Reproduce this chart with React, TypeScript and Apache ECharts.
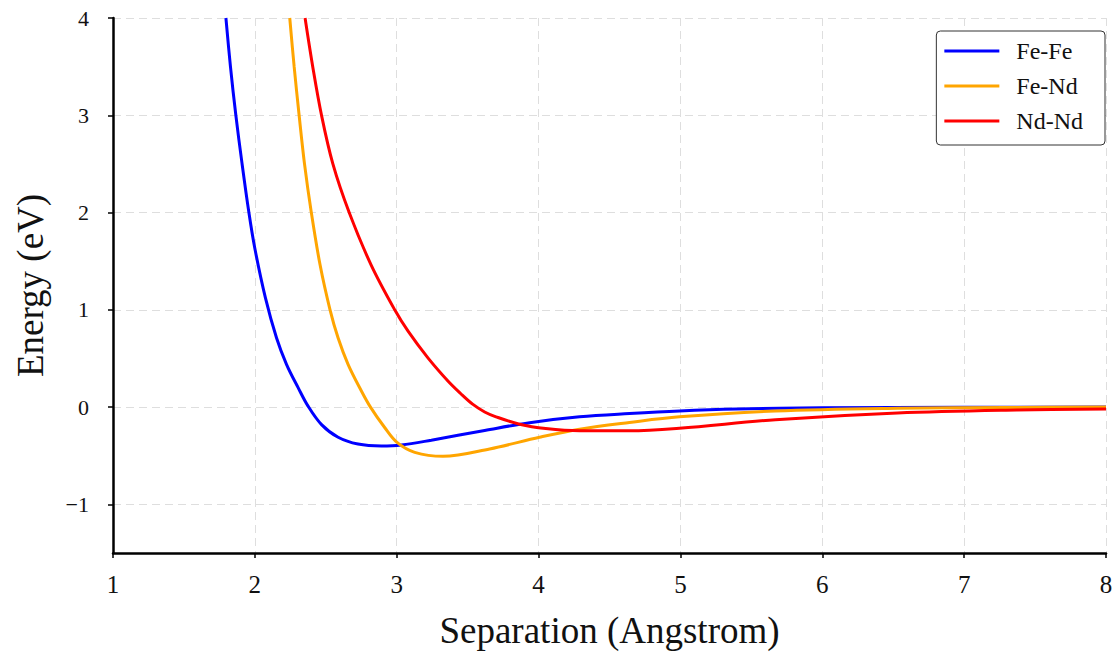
import React, { useEffect, useRef } from "react";
import * as echarts from "echarts";

// Separation (Angstrom) / Energy (eV) pairs
const feFeX = [1.796, 1.828, 1.866, 1.91, 1.958, 2.0, 2.075, 2.153, 2.223, 2.305, 2.375, 2.47, 2.587, 2.727, 2.892, 3.033, 3.244, 3.62, 3.937, 4.289, 4.641, 4.993, 5.4, 6.0, 7.0, 8.0];
const feFeY = [4.0, 3.5, 3.0, 2.5, 2.0, 1.63, 1.12, 0.71, 0.44, 0.2, 0.01, -0.18, -0.31, -0.38, -0.4, -0.39, -0.34, -0.24, -0.16, -0.1, -0.066, -0.039, -0.02, -0.008, -0.002, 0.0];

const feNdX = [2.246, 2.277, 2.312, 2.35, 2.398, 2.46, 2.53, 2.587, 2.657, 2.751, 2.815, 2.915, 3.002, 3.127, 3.326, 3.655, 4.007, 4.289, 4.641, 4.993, 5.67, 6.53, 7.3, 8.0];
const feNdY = [4.0, 3.5, 3.0, 2.5, 2.0, 1.46, 1.0, 0.71, 0.44, 0.166, 0.0, -0.21, -0.363, -0.465, -0.506, -0.43, -0.31, -0.227, -0.158, -0.1, -0.04, -0.012, -0.004, 0.0];

const ndNdX = [2.354, 2.408, 2.47, 2.55, 2.665, 2.82, 2.986, 3.08, 3.22, 3.361, 3.45, 3.535, 3.62, 3.7, 3.866, 4.05, 4.289, 4.641, 4.993, 5.67, 6.53, 7.37, 8.0];
const ndNdY = [4.0, 3.5, 3.0, 2.5, 2.0, 1.46, 1.0, 0.78, 0.506, 0.268, 0.14, 0.03, -0.05, -0.1, -0.176, -0.22, -0.243, -0.243, -0.217, -0.13, -0.061, -0.03, -0.02];

const seriesNames = ["Fe-Fe", "Fe-Nd", "Nd-Nd"];
const seriesColors = ["#0000ff", "#ffa500", "#ff0000"];
const yTicks = [-1, 0, 1, 2, 3, 4];

const FONT = "'Liberation Serif', 'DejaVu Serif', serif";

function pairs(xs: number[], ys: number[]) {
  return xs.map((x, i) => [x, ys[i]]);
}

export default function App() {
  const ref = useRef<HTMLDivElement>(null);
  useEffect(() => {
    if (!ref.current) return;
    const chart = echarts.init(ref.current, undefined, { renderer: "svg" });
    const data = [pairs(feFeX, feFeY), pairs(feNdX, feNdY), pairs(ndNdX, ndNdY)];
    const gridLine = { show: true, lineStyle: { color: "#dedede", width: 1, type: [8, 5] as any } };
    chart.setOption({
      animation: false,
      backgroundColor: "#ffffff",
      grid: { left: 113, right: 11, top: 18, bottom: 99, containLabel: false },
      legend: {
        orient: "vertical",
        right: 12,
        top: 31,
        padding: [8, 22, 12, 8],
        icon: "rect",
        itemWidth: 55,
        itemHeight: 3,
        itemGap: 11,
        backgroundColor: "#ffffff",
        borderColor: "#333333",
        borderWidth: 1,
        borderRadius: 4,
        data: seriesNames,
        textStyle: { fontFamily: FONT, fontSize: 24, color: "#111", padding: [0, 0, 0, 12], lineHeight: 24 },
      },
      xAxis: {
        type: "value",
        min: 1,
        max: 8,
        interval: 1,
        name: "Separation (Angstrom)",
        nameLocation: "middle",
        nameGap: 59,
        nameTextStyle: { fontFamily: FONT, fontSize: 37, color: "#111" },
        axisLine: { show: true, onZero: false, lineStyle: { color: "#000", width: 2.5 } },
        axisTick: { show: true, length: 5, lineStyle: { color: "#000", width: 1.5 } },
        axisLabel: {
          margin: 18,
          formatter: (v: number) => "{t|" + v + "}",
          rich: { t: { fontFamily: FONT, fontSize: 25, color: "#111", lineHeight: 26 } },
        },
        splitLine: gridLine,
      },
      yAxis: {
        type: "value",
        min: -1.5,
        max: 4,
        name: "Energy (eV)",
        nameLocation: "middle",
        nameGap: 64,
        nameTextStyle: { fontFamily: FONT, fontSize: 37, color: "#111" },
        axisLine: { show: true, onZero: false, lineStyle: { color: "#000", width: 2.5 } },
        axisTick: { show: true, length: 5, customValues: yTicks, lineStyle: { color: "#000", width: 1.5 } },
        axisLabel: {
          margin: 24,
          customValues: yTicks,
          formatter: (v: number) => "{t|" + String(v).replace("-", "\u2212") + "}",
          rich: { t: { fontFamily: FONT, fontSize: 22, color: "#111", lineHeight: 24 } },
        },
        splitLine: gridLine,
      },
      series: data.map((d, i) => ({
        name: seriesNames[i],
        type: "line",
        data: d,
        smooth: 0.35,
        symbol: "none",
        showSymbol: false,
        clip: true,
        lineStyle: { color: seriesColors[i], width: 3 },
        itemStyle: { color: seriesColors[i] },
      })),
    });
    return () => chart.dispose();
  }, []);
  return <div ref={ref} style={{ position: "fixed", left: 0, top: 0, width: 1117, height: 654 }} />;
}
